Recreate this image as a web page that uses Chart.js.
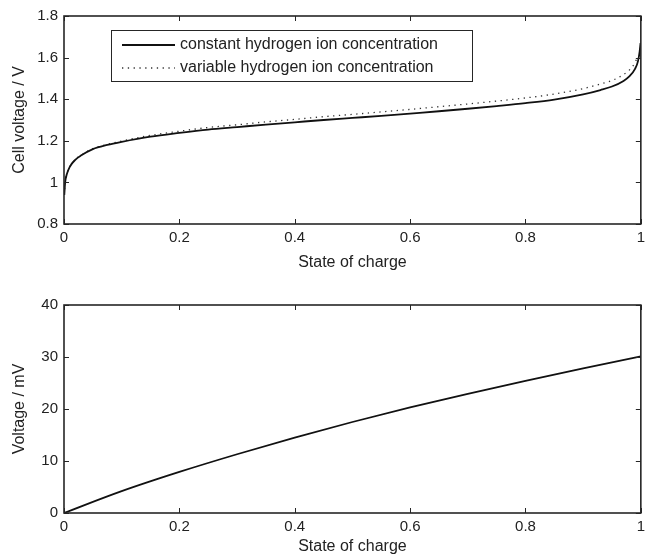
<!DOCTYPE html>
<html>
<head>
<meta charset="utf-8">
<script src="https://cdn.jsdelivr.net/npm/chart.js@4.4.1/dist/chart.umd.min.js"></script>
<style>
  html, body { margin: 0; padding: 0; background: #fff; }
  body { width: 650px; height: 556px; position: relative; overflow: hidden; }
  canvas { position: absolute; left: 0; }
  #topChart { top: 0; }
  #bottomChart { top: 280px; }
</style>
</head>
<body>
<canvas id="topChart" width="650" height="280"></canvas>
<canvas id="bottomChart" width="650" height="276"></canvas>
<script>
// state of charge points
const socTop = [0.0005, 0.002, 0.005, 0.01, 0.02, 0.03, 0.05, 0.075, 0.1, 0.15, 0.2, 0.25, 0.3, 0.35, 0.4,
  0.45, 0.5, 0.55, 0.6, 0.65, 0.7, 0.75, 0.8, 0.85, 0.9, 0.93, 0.95, 0.97, 0.98, 0.99, 0.995, 0.998, 0.9995];
// cell voltage / V, constant hydrogen ion concentration
const constantH = [0.94, 1.0, 1.04, 1.075, 1.11, 1.13, 1.16, 1.18, 1.195, 1.22, 1.238, 1.254, 1.266, 1.278, 1.289,
  1.3, 1.31, 1.32, 1.331, 1.342, 1.354, 1.367, 1.381, 1.398, 1.423, 1.444, 1.461, 1.488, 1.51, 1.546, 1.582, 1.63, 1.67];
// cell voltage / V, variable hydrogen ion concentration (ends a little before 1)
const variableH = [0.94, 1.0, 1.04, 1.075, 1.111, 1.131, 1.162, 1.183, 1.199, 1.226, 1.246, 1.264, 1.277, 1.291, 1.303,
  1.316, 1.327, 1.339, 1.351, 1.364, 1.377, 1.391, 1.406, 1.425, 1.451, 1.473, 1.49, 1.518, 1.54, 1.576, 1.61];

// bottom plot: voltage difference / mV
const socBottom = [0, 0.1, 0.2, 0.3, 0.4, 0.5, 0.6, 0.7, 0.8, 0.9, 1.0];
const diffMv = [0, 4.2, 7.9, 11.3, 14.5, 17.5, 20.3, 22.9, 25.4, 27.8, 30.1];

const xTicks = [0, 0.2, 0.4, 0.6, 0.8, 1];
const topYTicks = [0.8, 1, 1.2, 1.4, 1.6, 1.8];
const bottomYTicks = [0, 10, 20, 30, 40];

const FONT = "'Liberation Sans', Arial, Helvetica, sans-serif";
const INK = "#222";

// box round the plot with inward tick marks on all four sides
const boxTicks = {
  id: "boxTicks",
  afterDatasetsDraw(chart) {
    const { ctx, chartArea: a, scales: { x, y } } = chart;
    ctx.save();
    ctx.strokeStyle = "#262626";
    ctx.lineWidth = 1;
    ctx.beginPath();
    x.ticks.forEach((t) => {
      const px = Math.round(x.getPixelForValue(t.value)) + 0.5;
      ctx.moveTo(px, a.bottom); ctx.lineTo(px, a.bottom - 5);
      ctx.moveTo(px, a.top); ctx.lineTo(px, a.top + 5);
    });
    y.ticks.forEach((t) => {
      const py = Math.round(y.getPixelForValue(t.value)) + 0.5;
      ctx.moveTo(a.left, py); ctx.lineTo(a.left + 5, py);
      ctx.moveTo(a.right, py); ctx.lineTo(a.right - 5, py);
    });
    ctx.stroke();
    ctx.lineWidth = 1.6;
    ctx.strokeRect(a.left, a.top, a.width, a.height);
    ctx.restore();
  },
};

// matlab style legend box inside the top plot
const boxLegend = {
  id: "boxLegend",
  afterDraw(chart) {
    const { ctx, chartArea: a } = chart;
    const left = a.left + 47, top = a.top + 14, w = 361, h = 51;
    ctx.save();
    ctx.fillStyle = "#fff";
    ctx.fillRect(left, top, w, h);
    ctx.strokeStyle = "#262626";
    ctx.lineWidth = 1;
    ctx.strokeRect(left + 0.5, top + 0.5, w, h);
    ctx.font = "16px " + FONT;
    ctx.textBaseline = "middle";
    ctx.fillStyle = INK;
    chart.data.datasets.forEach((ds, i) => {
      const yy = top + 15 + i * 23;
      ctx.strokeStyle = ds.borderColor;
      ctx.lineWidth = ds.borderWidth;
      ctx.setLineDash(ds.borderDash || []);
      ctx.beginPath();
      ctx.moveTo(left + 11, yy);
      ctx.lineTo(left + 64, yy);
      ctx.stroke();
      ctx.setLineDash([]);
      ctx.fillText(ds.label, left + 69, yy);
    });
    ctx.restore();
  },
};

function xScale(titlePadBottom, scaleHeight) {
  return {
    type: "linear",
    min: 0,
    max: 1,
    afterBuildTicks: (s) => { s.ticks = xTicks.map((v) => ({ value: v })); },
    afterFit: (s) => { s.height = scaleHeight; },
    grid: { display: false, drawTicks: false },
    border: { display: false },
    ticks: { color: INK, font: { family: FONT, size: 15 }, padding: 5, maxRotation: 0,
      callback: (v) => String(v) },
    title: { display: true, text: "State of charge", color: INK,
      font: { family: FONT, size: 16 }, padding: { top: 0, bottom: titlePadBottom } },
  };
}

function yScale(min, max, ticks, label) {
  return {
    type: "linear",
    min: min,
    max: max,
    afterBuildTicks: (s) => { s.ticks = ticks.map((v) => ({ value: v })); },
    afterFit: (s) => { s.width = 64; },
    grid: { display: false, drawTicks: false },
    border: { display: false },
    ticks: { color: INK, font: { family: FONT, size: 15 }, padding: 6,
      callback: (v) => String(v) },
    title: { display: true, text: label, color: INK,
      font: { family: FONT, size: 16 }, padding: { top: 10, bottom: 0 } },
  };
}

new Chart(document.getElementById("topChart"), {
  type: "line",
  data: {
    datasets: [
      {
        label: "constant hydrogen ion concentration",
        data: constantH.map((v, i) => ({ x: socTop[i], y: v })),
        borderColor: "#111",
        borderWidth: 1.8,
        pointRadius: 0,
        cubicInterpolationMode: "monotone",
      },
      {
        label: "variable hydrogen ion concentration",
        data: variableH.map((v, i) => ({ x: socTop[i], y: v })),
        borderColor: "#333",
        borderWidth: 1.3,
        borderDash: [1.3, 4.5],
        pointRadius: 0,
        cubicInterpolationMode: "monotone",
      },
    ],
  },
  options: {
    responsive: false,
    animation: false,
    devicePixelRatio: 1,
    layout: { padding: { top: 16, right: 4, left: 0, bottom: 0 } },
    plugins: { legend: { display: false }, tooltip: { enabled: false } },
    scales: {
      x: xScale(8, 56),
      y: yScale(0.8, 1.8, topYTicks, "Cell voltage / V"),
    },
  },
  plugins: [boxTicks, boxLegend],
});

new Chart(document.getElementById("bottomChart"), {
  type: "line",
  data: {
    datasets: [
      {
        label: "voltage difference",
        data: diffMv.map((v, i) => ({ x: socBottom[i], y: v })),
        borderColor: "#111",
        borderWidth: 1.8,
        pointRadius: 0,
        cubicInterpolationMode: "monotone",
      },
    ],
  },
  options: {
    responsive: false,
    animation: false,
    devicePixelRatio: 1,
    layout: { padding: { top: 25, right: 4, left: 0, bottom: 0 } },
    plugins: { legend: { display: false }, tooltip: { enabled: false } },
    scales: {
      x: xScale(0, 43),
      y: yScale(0, 40, bottomYTicks, "Voltage / mV"),
    },
  },
  plugins: [boxTicks],
});
</script>
</body>
</html>
